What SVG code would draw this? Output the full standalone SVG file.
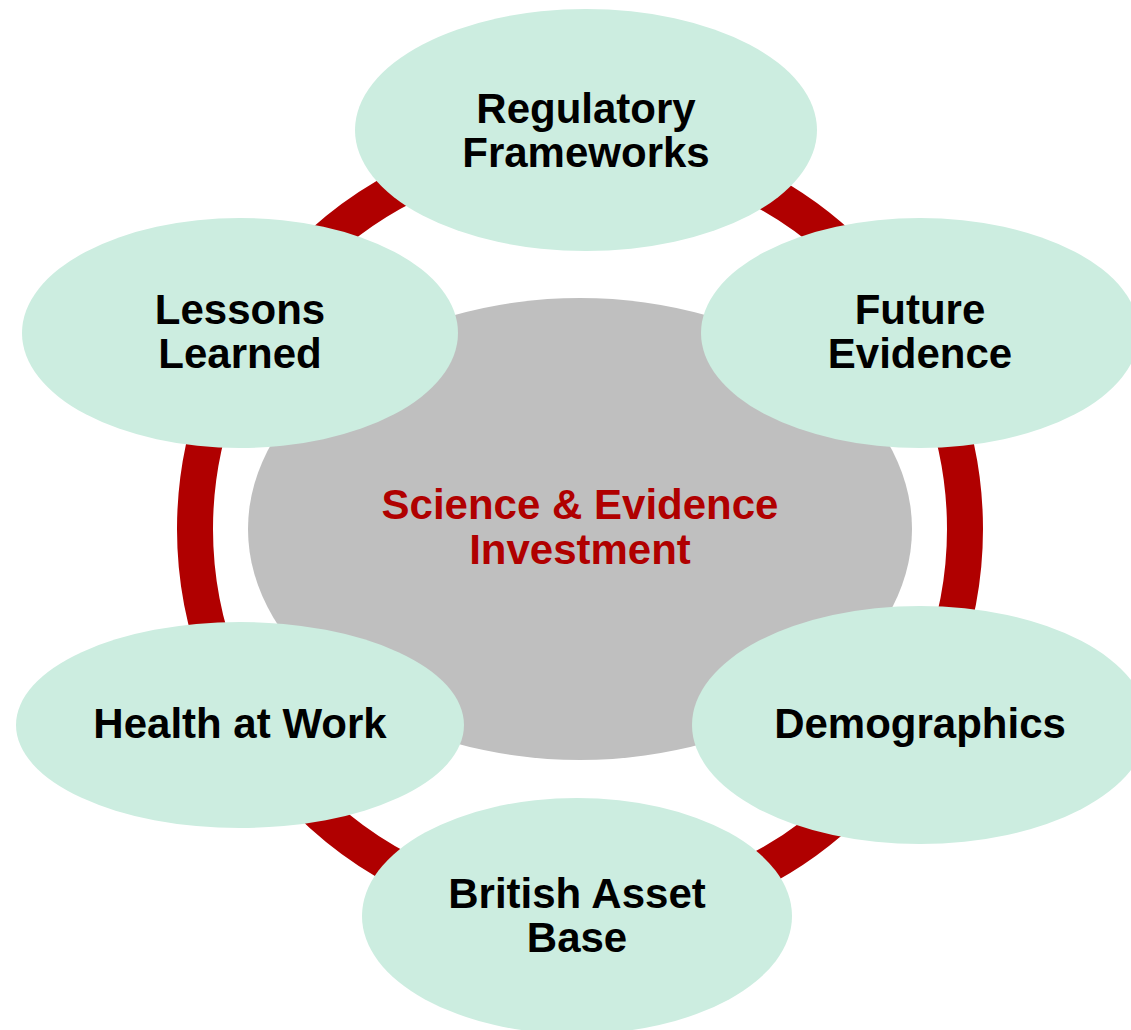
<svg xmlns="http://www.w3.org/2000/svg" width="1131" height="1030" viewBox="0 0 1131 1030">
<style>
.node{fill:#CCEDE0}
.lbl{font-family:"Liberation Sans",Arial,sans-serif;font-weight:bold;font-size:42px;fill:#000;text-anchor:middle}
.center-lbl{font-family:"Liberation Sans",Arial,sans-serif;font-weight:bold;font-size:42px;fill:#B00000;text-anchor:middle}
</style>
<rect width="1131" height="1030" fill="#FFFFFF"/>
<g id="connectors">
<circle cx="580" cy="529" r="385" fill="none" stroke="#B00000" stroke-width="36"/>
</g>
<g id="center">
<ellipse cx="580" cy="529" rx="332" ry="231" fill="#BFBFBF"/>
<text class="center-lbl" x="580" y="519">Science &amp; Evidence</text>
<text class="center-lbl" x="580" y="564">Investment</text>
</g>
<g id="regulatory-frameworks">
<ellipse class="node" cx="586" cy="130" rx="231" ry="121"/>
<text class="lbl" x="586" y="123">Regulatory</text>
<text class="lbl" x="586" y="167">Frameworks</text>
</g>
<g id="lessons-learned">
<ellipse class="node" cx="240" cy="333" rx="218" ry="115"/>
<text class="lbl" x="240" y="324">Lessons</text>
<text class="lbl" x="240" y="368">Learned</text>
</g>
<g id="future-evidence">
<ellipse class="node" cx="920" cy="333" rx="219" ry="115"/>
<text class="lbl" x="920" y="324">Future</text>
<text class="lbl" x="920" y="368">Evidence</text>
</g>
<g id="health-at-work">
<ellipse class="node" cx="240" cy="725" rx="224" ry="103"/>
<text class="lbl" x="240" y="738">Health at Work</text>
</g>
<g id="demographics">
<ellipse class="node" cx="920" cy="725" rx="228" ry="119"/>
<text class="lbl" x="920" y="738">Demographics</text>
</g>
<g id="british-asset-base">
<ellipse class="node" cx="577" cy="916" rx="215" ry="118"/>
<text class="lbl" x="577" y="908">British Asset</text>
<text class="lbl" x="577" y="952">Base</text>
</g>
</svg>
